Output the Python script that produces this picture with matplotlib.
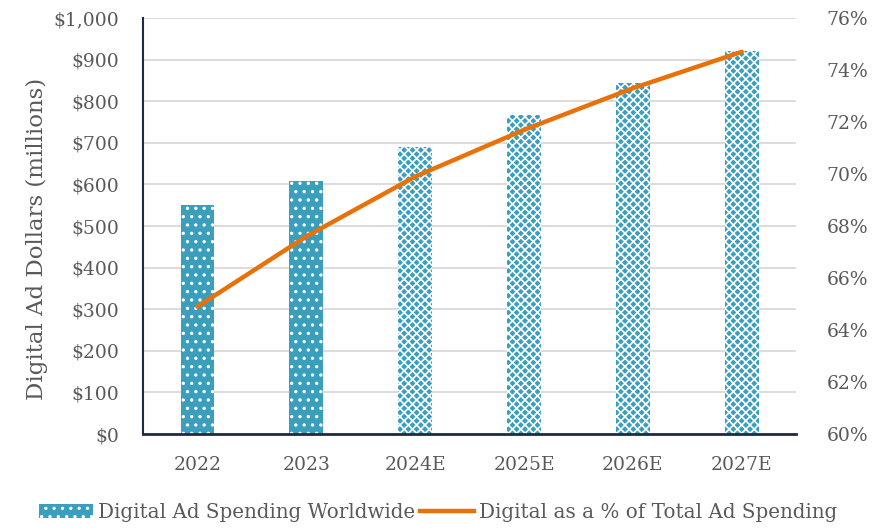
import matplotlib
matplotlib.use("Agg")
import matplotlib.pyplot as plt
from matplotlib.patches import Patch
from matplotlib.lines import Line2D
from matplotlib.ticker import FuncFormatter

plt.rcParams["font.family"] = ["DejaVu Serif"]
plt.rcParams["hatch.linewidth"] = 1.2

# データ
years = ["2022", "2023", "2024E", "2025E", "2026E", "2027E"]
spend = [551, 609, 691, 768, 843, 920]          # $ millions
share = [64.9, 67.6, 69.9, 71.7, 73.3, 74.7]     # % of total ad spending
estimated = [False, False, True, True, True, True]

TEAL = "#3A9EBD"
ORANGE = "#E8710A"
TEXT = "#595959"
NAVY = "#1F2A44"

fig = plt.figure(figsize=(8.85, 5.3), dpi=100)
ax = fig.add_axes([0.1616, 0.181, 0.738, 0.785])
ax2 = ax.twinx()

x = list(range(len(years)))
for i, (v, est) in enumerate(zip(spend, estimated)):
    ax.bar(i, v, width=0.31, color=TEAL, edgecolor="white", linewidth=0,
           hatch="xxxx" if est else "..", zorder=2)

ax2.plot(x, share, color=ORANGE, linewidth=3.2, solid_capstyle="round", zorder=3)

ax.set_xlim(-0.5, 5.5)
ax.set_ylim(0, 1000)
ax.set_yticks(range(0, 1001, 100))
ax.yaxis.set_major_formatter(FuncFormatter(lambda v, p: f"${v:,.0f}"))
ax2.set_ylim(60, 76)
ax2.set_yticks(range(60, 77, 2))
ax2.yaxis.set_major_formatter(FuncFormatter(lambda v, p: f"{v:.0f}%"))

ax.set_xticks(x)
ax.set_xticklabels(years)
ax.grid(axis="y", color="#D9D9D9", linewidth=1.3, zorder=0)
ax.set_axisbelow(True)

for a in (ax, ax2):
    a.tick_params(length=0, labelsize=13.5, labelcolor=TEXT)
    a.spines["top"].set_visible(False)
    a.spines["right"].set_visible(False)
ax2.spines["left"].set_visible(False)
ax2.spines["bottom"].set_visible(False)
ax.spines["left"].set_color(NAVY)
ax.spines["bottom"].set_color(NAVY)
ax.spines["left"].set_linewidth(1.5)
ax.spines["bottom"].set_linewidth(2)
ax.tick_params(axis="x", pad=16)
ax.tick_params(axis="y", pad=17)
ax2.tick_params(axis="y", pad=22)

ax.set_ylabel("Digital Ad Dollars (millions)", fontsize=16.5, color=TEXT)
ax.yaxis.set_label_coords(-0.145, 0.47)

handles = [
    Patch(facecolor=TEAL, edgecolor="white", linewidth=0, hatch=".."),
    Line2D([0], [0], color=ORANGE, linewidth=3.2),
]
labels = ["Digital Ad Spending Worldwide", "Digital as a % of Total Ad Spending"]
fig.legend(handles, labels, loc="lower center", bbox_to_anchor=(0.495, -0.018), ncol=2,
           frameon=False, fontsize=14.3, labelcolor=TEXT, handlelength=2.7,
           handletextpad=0.25, columnspacing=0.25)

fig.savefig("out.png", dpi=100)
